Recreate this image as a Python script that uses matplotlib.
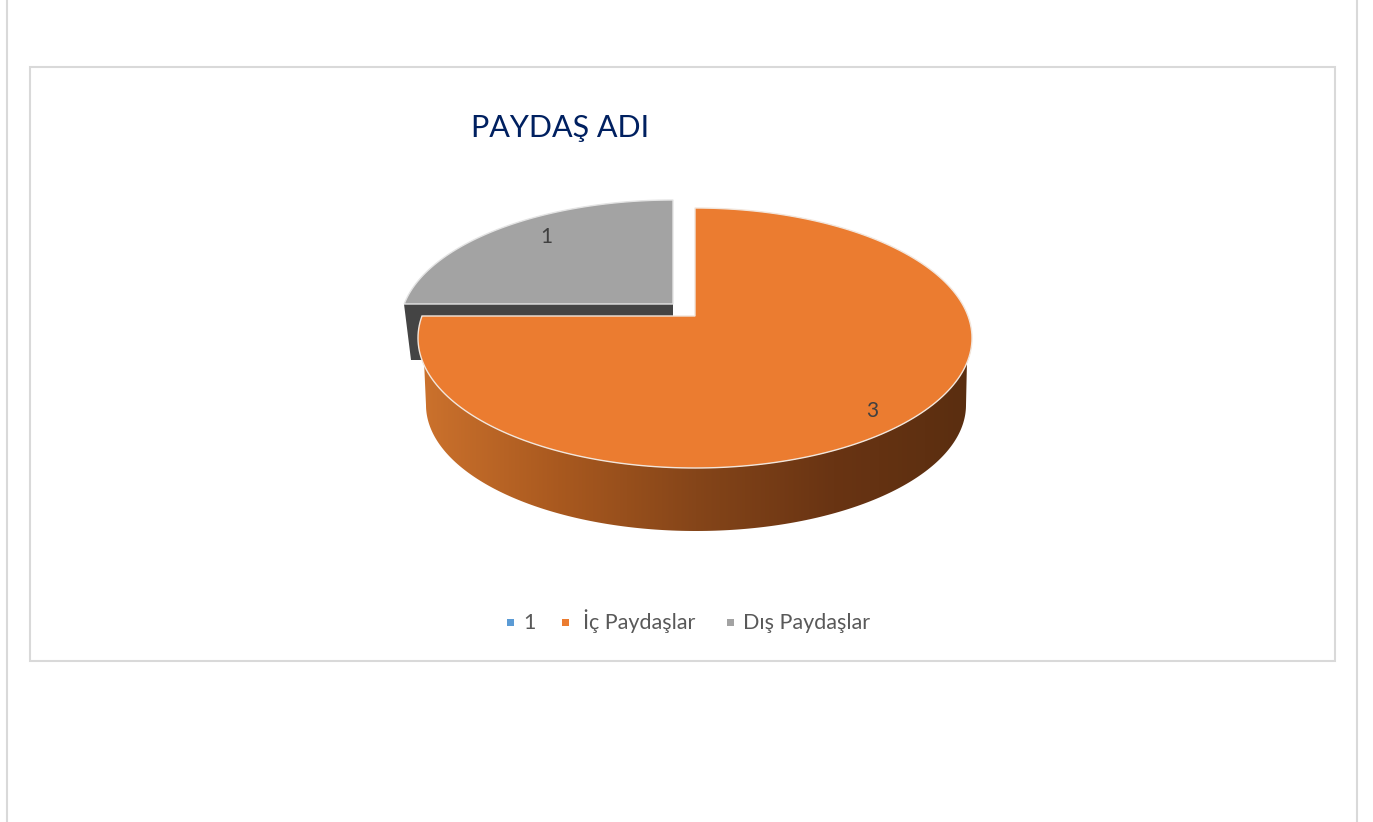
#!/usr/bin/env python3
"""Exploded 3D-style pie chart, PAYDAŞ ADI."""

import numpy as np
import matplotlib
matplotlib.use('Agg')
import matplotlib.pyplot as plt
from matplotlib.patches import Polygon, Rectangle

plt.rcParams['font.family'] = ['Lato', 'DejaVu Sans']

TITLE = 'PAYDAŞ ADI'
CATEGORIES = ['1', 'İç Paydaşlar', 'Dış Paydaşlar']
VALUES = [0, 3, 1]
COLORS = ['#5b9bd5', '#eb7c30', '#a3a3a3']

TEXT_COLOR = '#404040'
BORDER = '#d9d9d9'

W, H = 1373, 822


def angle_spans(values):
    """Start and end angle of each slice, clockwise from the top."""
    cum = np.cumsum([0] + list(values)) / sum(values) * 2 * np.pi
    return cum[:-1], cum[1:]


def arc(cx, cy, rx, ry, a0, a1, n=200):
    t = np.linspace(a0, a1, n)
    return np.column_stack([cx + rx * np.sin(t), cy - ry * np.cos(t)])


fig = plt.figure(figsize=(W / 100, H / 100), dpi=100)
ax = fig.add_axes([0, 0, 1, 1])
ax.set_xlim(0, W)
ax.set_ylim(H, 0)
ax.axis('off')

# page lines and chart frame
ax.plot([6.5, 6.5], [0, H], color=BORDER, lw=1.5)
ax.plot([1357, 1357], [0, H], color=BORDER, lw=1.5)
ax.add_patch(Rectangle((30, 67), 1305, 594, fc='white', ec=BORDER, lw=1.5))

starts, ends = angle_spans(VALUES)

# the apex sits above the ellipse centre, so the 270 degree edge lands past 270 on the arc
tilt_o = np.arcsin(22 / 130)
tilt_g = np.arcsin(22 / 126)

# grey slice, pulled out to the upper left
g0, g1 = starts[2], ends[2]
grey_arc = arc(673, 326, 273, 126, g0 + tilt_g, g1)
ax.add_patch(Polygon([(404, 304), (411, 360), (430, 360), (430, 316), (673, 316), (673, 304)],
                     fc='#444444', ec='none', zorder=2))
ax.add_patch(Polygon(np.vstack([[(673, 304)], grey_arc]), fc=COLORS[2], ec='#e4e4e4', lw=1, zorder=3))

# orange slice side, gradient from left to right
o0, o1 = starts[1], ends[1]
low = arc(696, 405, 270, 126, np.pi / 2, 3 * np.pi / 2)
top_edge = arc(695, 338, 277, 130, np.pi / 2 - 0.17, 3 * np.pi / 2 + 0.17)
side = Polygon(np.vstack([top_edge[::-1], low]), fc='none', ec='none', zorder=4)
ax.add_patch(side)
cmap = matplotlib.colors.LinearSegmentedColormap.from_list(
    'side', ['#cc722d', '#a9591f', '#854519', '#693413', '#5a2e10'])
grad = ax.imshow(np.linspace(0, 1, 256).reshape(1, -1), cmap=cmap, aspect='auto',
                 extent=(420, 972, 540, 330), zorder=4)
grad.set_clip_path(side)
ax.set_xlim(0, W)
ax.set_ylim(H, 0)

# orange slice top
orange_arc = arc(695, 338, 277, 130, o0, o1 + tilt_o)
ax.add_patch(Polygon(np.vstack([[(695, 316)], orange_arc]),
                     fc=COLORS[1], ec='#f2e6dc', lw=1, zorder=5))

# data labels
ax.text(546, 243, str(VALUES[2]), ha='center', va='baseline', fontsize=15, color=TEXT_COLOR, zorder=6)
ax.text(872, 417, str(VALUES[1]), ha='center', va='baseline', fontsize=15, color=TEXT_COLOR, zorder=6)

ax.text(560, 137, TITLE, ha='center', va='baseline', fontsize=22, color='#002060')

# legend
for x, tx, name, color in zip([507, 562, 727], [523, 583, 743], CATEGORIES, COLORS):
    ax.add_patch(Rectangle((x, 619), 7, 7, fc=color, ec='none'))
    ax.text(tx, 629, name, ha='left', va='baseline', fontsize=15.5, color='#595959')

fig.savefig('out.png', dpi=100)
